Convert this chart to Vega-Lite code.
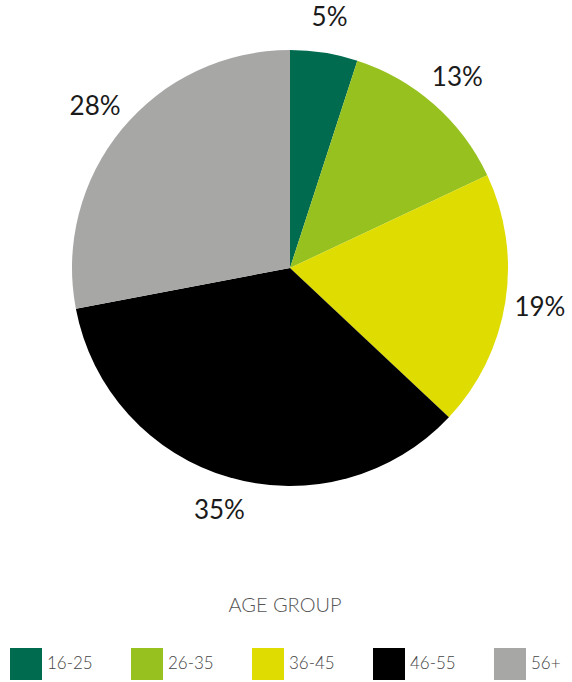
{
  "$schema": "https://vega.github.io/schema/vega-lite/v6.json",
  "autosize": {"type": "pad"},
  "padding": 0,
  "width": 580,
  "height": 536,
  "background": "white",
  "data": {
    "values": [
      {"group": "16-25", "share": 0.05, "order": 1},
      {"group": "26-35", "share": 0.13, "order": 2},
      {"group": "36-45", "share": 0.19, "order": 3},
      {"group": "46-55", "share": 0.35, "order": 4},
      {"group": "56+", "share": 0.28, "order": 5}
    ]
  },
  "encoding": {
    "theta": {"field": "share", "type": "quantitative", "stack": true},
    "order": {"field": "order", "type": "quantitative"},
    "color": {
      "field": "group",
      "type": "nominal",
      "scale": {
        "domain": ["16-25", "26-35", "36-45", "46-55", "56+"],
        "range": ["#006B4F", "#96C11F", "#DEDC00", "#000000", "#A7A7A6"]
      },
      "legend": {
        "title": "AGE GROUP",
        "orient": "bottom",
        "direction": "horizontal",
        "offset": 50,
        "padding": 10,
        "titleAnchor": "middle",
        "titleFont": "Lato",
        "titleFontSize": 20,
        "titleFontWeight": 300,
        "titleColor": "#555555",
        "titlePadding": 32,
        "labelFont": "Lato",
        "labelFontSize": 17,
        "labelFontWeight": 300,
        "labelColor": "#444444",
        "labelOffset": 5,
        "symbolType": "square",
        "symbolSize": 1024,
        "symbolStrokeWidth": 0,
        "symbolOpacity": 1,
        "columnPadding": 38
      }
    }
  },
  "layer": [
    {"mark": {"type": "arc", "outerRadius": 218}},
    {
      "mark": {"type": "text", "radius": 253, "font": "Lato", "fontSize": 26, "fontWeight": 400, "color": "#1a1a1a"},
      "encoding": {
        "text": {"field": "share", "type": "quantitative", "format": ".0%"},
        "color": {"value": "#1a1a1a"}
      }
    }
  ],
  "config": {"view": {"stroke": null}}
}
